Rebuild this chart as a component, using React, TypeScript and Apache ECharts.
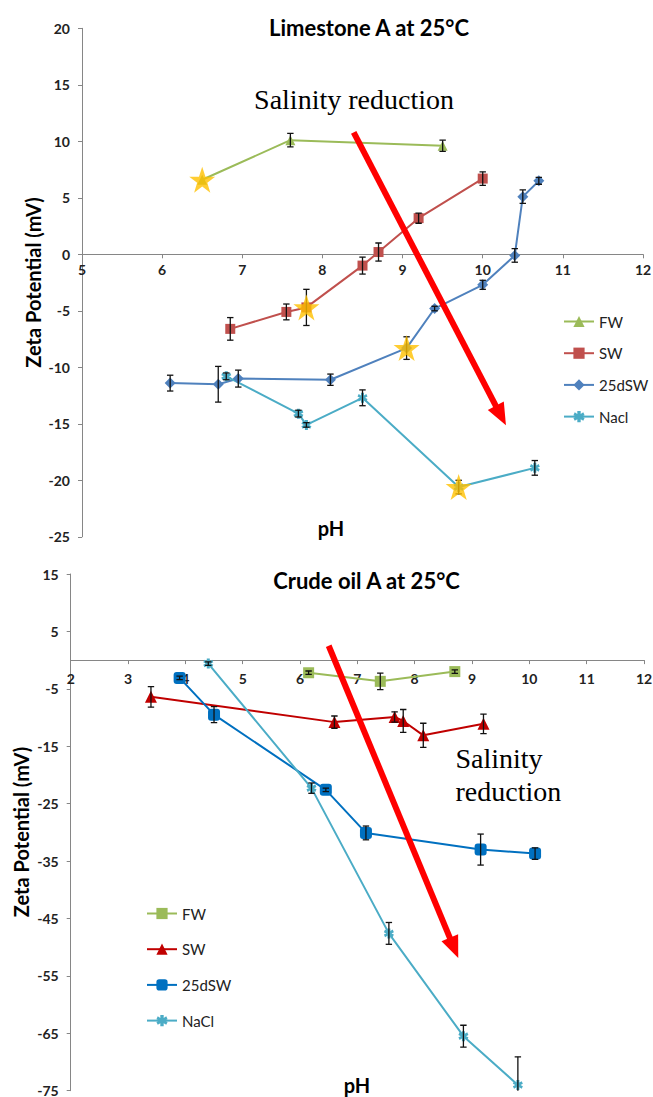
import React, { useEffect, useRef } from "react";
import * as echarts from "echarts";

// ---- Limestone A at 25°C : zeta potential (mV) against pH ----
const limePhFW = [6.5, 7.6, 9.5];
const limeZetaFW = [6.6, 10.1, 9.6];
const limeErrFW = [0, 0.6, 0.5];

const limePhSW = [6.85, 7.55, 7.8, 8.5, 8.7, 9.2, 10.0];
const limeZetaSW = [-6.6, -5.1, -4.7, -1.0, 0.2, 3.2, 6.7];
const limeErrSW = [1.0, 0.7, 1.6, 0.75, 0.8, 0.45, 0.6];

const limePh25dSW = [6.1, 6.7, 6.95, 8.1, 9.05, 9.4, 10.0, 10.4, 10.5, 10.7];
const limeZeta25dSW = [-11.4, -11.5, -11.0, -11.1, -8.3, -4.8, -2.7, -0.1, 5.1, 6.5];
const limeErr25dSW = [0.7, 1.58, 0.75, 0.5, 1.0, 0.2, 0.4, 0.6, 0.6, 0.3];

const limePhNacl = [6.8, 7.7, 7.8, 8.5, 9.7, 10.65];
const limeZetaNacl = [-10.8, -14.1, -15.1, -12.7, -20.6, -18.9];
const limeErrNacl = [0.3, 0.3, 0.2, 0.7, 0.6, 0.65];

// index of the highlighted (starred) point in each Limestone series
const limeStarFW = 0;
const limeStarSW = 2;
const limeStar25dSW = 4;
const limeStarNacl = 4;

// ---- Crude oil A at 25°C ----
const crudePhFW = [6.15, 7.4, 8.7];
const crudeZetaFW = [-2.2, -3.7, -2.0];
const crudeErrFW = [0.3, 1.45, 0.3];

const crudePhSW = [3.4, 6.6, 7.65, 7.8, 8.15, 9.2];
const crudeZetaSW = [-6.4, -10.8, -9.9, -10.6, -13.1, -11.1];
const crudeErrSW = [1.8, 1.07, 0.9, 2.0, 2.1, 1.7];

const crudePh25dSW = [3.9, 4.5, 6.45, 7.15, 9.15, 10.1];
const crudeZeta25dSW = [-3.1, -9.5, -22.6, -30.1, -33.0, -33.7];
const crudeErr25dSW = [0.3, 1.4, 0.3, 1.2, 2.7, 1.0];

const crudePhNaCl = [4.4, 6.2, 7.55, 8.85, 9.8];
const crudeZetaNaCl = [-0.6, -22.3, -47.6, -65.5, -74.0];
const crudeErrNaCl = [0.3, 0.9, 1.9, 1.9, 4.9];

// axis tick labels
const limePhTicks = [5, 6, 7, 8, 9, 10, 11, 12];
const limeZetaTicks = [20, 15, 10, 5, 0, -5, -10, -15, -20, -25];
const crudePhTicks = [2, 3, 4, 5, 6, 7, 8, 9, 10, 11, 12];
const crudeZetaTicks = [15, 5, -5, -15, -25, -35, -45, -55, -65, -75];

const SANS = 'Lato, "Liberation Sans", sans-serif';
const SERIF = '"Liberation Serif", "DejaVu Serif", serif';

const STAR_PATH =
  "path://M50,2 L61.8,36.2 L97.6,36.2 L68.6,57.4 L79.6,91.6 L50,70.4 L20.4,91.6 L31.4,57.4 L2.4,36.2 L38.2,36.2 Z";
const ASTERISK_PATH =
  "path://M3.5,0 L6.5,0 L6.5,2.6 L8.8,1.2 L10,3.8 L7.6,5 L10,6.2 L8.8,8.8 L6.5,7.4 L6.5,10 L3.5,10 L3.5,7.4 L1.2,8.8 L0,6.2 L2.4,5 L0,3.8 L1.2,1.2 L3.5,2.6 Z";

type Def = {
  name: string;
  ph: number[];
  zeta: number[];
  err: number[];
  color: string;
  symbol: string;
  size: number;
  star?: number;
};

const zip = (a: number[], b: number[]) => a.map((v, i) => [v, b[i]]);

function lineSeries(d: Def) {
  return {
    type: "line",
    name: d.name,
    data: zip(d.ph, d.zeta),
    symbol: d.symbol,
    symbolSize: d.size,
    showAllSymbol: true,
    lineStyle: { color: d.color, width: 2 },
    itemStyle: { color: d.color, borderWidth: 0 },
    z: 2,
    silent: true,
  };
}

function errorBars(defs: Def[]) {
  const data: number[][] = [];
  defs.forEach((d) =>
    d.ph.forEach((x, i) => {
      if (d.err[i] > 0) data.push([x, d.zeta[i], d.err[i]]);
    })
  );
  return {
    type: "custom",
    silent: true,
    z: 4,
    clip: true,
    encode: { x: 0, y: 1 },
    data,
    renderItem: (_p: any, api: any) => {
      const x = api.value(0);
      const y = api.value(1);
      const e = api.value(2);
      const top = api.coord([x, y + e]);
      const bot = api.coord([x, y - e]);
      const w = 3.2;
      const st = { stroke: "#111", lineWidth: 1.3 };
      return {
        type: "group",
        children: [
          { type: "line", shape: { x1: top[0], y1: top[1], x2: bot[0], y2: bot[1] }, style: st },
          { type: "line", shape: { x1: top[0] - w, y1: top[1], x2: top[0] + w, y2: top[1] }, style: st },
          { type: "line", shape: { x1: bot[0] - w, y1: bot[1], x2: bot[0] + w, y2: bot[1] }, style: st },
        ],
      };
    },
  };
}

function starSeries(defs: Def[]) {
  const data: number[][] = [];
  defs.forEach((d) => {
    if (d.star !== undefined) data.push([d.ph[d.star], d.zeta[d.star]]);
  });
  return {
    type: "scatter",
    data,
    symbol: STAR_PATH,
    symbolSize: [26, 26],
    itemStyle: { color: "#FFC000" },
    z: 5,
    silent: true,
  };
}

function arrowSeries(arrow: number[]) {
  return {
    type: "custom",
    silent: true,
    z: 6,
    clip: false,
    encode: { x: [0, 2], y: [1, 3] },
    data: [arrow],
    renderItem: (_p: any, api: any) => {
      const a = api.coord([api.value(0), api.value(1)]);
      const b = api.coord([api.value(2), api.value(3)]);
      const dx = b[0] - a[0];
      const dy = b[1] - a[1];
      const len = Math.hypot(dx, dy);
      const ux = dx / len;
      const uy = dy / len;
      const px = -uy;
      const py = ux;
      const L = 22;
      const W = 9;
      const bx = b[0] - ux * L;
      const by = b[1] - uy * L;
      return {
        type: "group",
        children: [
          {
            type: "line",
            shape: { x1: a[0], y1: a[1], x2: bx + ux * 2, y2: by + uy * 2 },
            style: { stroke: "#FF0000", lineWidth: 6 },
          },
          {
            type: "polygon",
            shape: { points: [[b[0], b[1]], [bx + px * W, by + py * W], [bx - px * W, by - py * W]] },
            style: { fill: "#FF0000" },
          },
        ],
      };
    },
  };
}

const lineColor = "#868686";
const tickLabel = { color: "#222", fontFamily: SANS, fontWeight: "bold", fontSize: 14 };

function text(x: number, y: number, s: string, font: any, extra: any = {}) {
  return {
    type: "text",
    x,
    y,
    silent: true,
    ...extra,
    style: {
      text: s,
      fill: "#000",
      align: "center",
      verticalAlign: "middle",
      ...font,
      ...(extra.style || {}),
    },
  };
}

const titleFont = { fontFamily: SANS, fontWeight: "bold", fontSize: 22 };
const axisNameFont = { fontFamily: SANS, fontWeight: "bold", fontSize: 20 };
const noteFont = { fontFamily: SERIF, fontSize: 28 };

function legend(names: string[], left: number, top: number, gap: number) {
  return {
    data: names,
    orient: "vertical",
    left,
    top,
    itemWidth: 30,
    itemHeight: 14,
    itemGap: gap,
    selectedMode: false,
    textStyle: { fontFamily: SANS, fontSize: 15, color: "#222" },
  };
}

// The pH axis sits on the zero line of the zeta axis: it is lifted from the
// grid bottom by the share of the grid height that lies below zeta = 0.
function zeroLift(height: number, top: number, bottom: number, min: number, max: number) {
  const h = height - top - bottom;
  return (h * (0 - min)) / (max - min);
}

function xAxis(ticks: number[], lift: number, margin: number) {
  return {
    type: "value",
    min: ticks[0],
    max: ticks[ticks.length - 1],
    interval: 1,
    offset: -lift,
    axisLine: { show: true, onZero: false, lineStyle: { color: lineColor, width: 1 } },
    axisTick: { show: true, length: 4, lineStyle: { color: lineColor } },
    axisLabel: { ...tickLabel, margin },
    splitLine: { show: false },
  };
}

const limeDefs: Def[] = [
  { name: "FW", ph: limePhFW, zeta: limeZetaFW, err: limeErrFW, color: "#9BBB59", symbol: "triangle", size: 10, star: limeStarFW },
  { name: "SW", ph: limePhSW, zeta: limeZetaSW, err: limeErrSW, color: "#C0504D", symbol: "rect", size: 10, star: limeStarSW },
  { name: "25dSW", ph: limePh25dSW, zeta: limeZeta25dSW, err: limeErr25dSW, color: "#4F81BD", symbol: "diamond", size: 11, star: limeStar25dSW },
  { name: "Nacl", ph: limePhNacl, zeta: limeZetaNacl, err: limeErrNacl, color: "#4BACC6", symbol: ASTERISK_PATH, size: 10, star: limeStarNacl },
];

const crudeDefs: Def[] = [
  { name: "FW", ph: crudePhFW, zeta: crudeZetaFW, err: crudeErrFW, color: "#9BBB59", symbol: "rect", size: 11 },
  { name: "SW", ph: crudePhSW, zeta: crudeZetaSW, err: crudeErrSW, color: "#C00000", symbol: "triangle", size: 12 },
  { name: "25dSW", ph: crudePh25dSW, zeta: crudeZeta25dSW, err: crudeErr25dSW, color: "#0070C0", symbol: "roundRect", size: 12 },
  { name: "NaCl", ph: crudePhNaCl, zeta: crudeZetaNaCl, err: crudeErrNaCl, color: "#4BACC6", symbol: ASTERISK_PATH, size: 10 },
];

// Top chart canvas runs a little past the point where the lower chart starts,
// so its lowest tick label is not cut; the lower chart lies over it, transparent.
const LIME_H = 550;
const limeGrid = { left: 82, right: 10, top: 28.3, bottom: 13.2, outerBoundsMode: "none" };
const limeMin = limeZetaTicks[limeZetaTicks.length - 1];
const limeMax = limeZetaTicks[0];

const CRUDE_TOP = 540;
const CRUDE_H = 557;
const crudeGrid = { left: 70.7, right: 9, top: 34, bottom: 6.3, outerBoundsMode: "none" };
const crudeMin = crudeZetaTicks[crudeZetaTicks.length - 1];
const crudeMax = crudeZetaTicks[0];

const limeOption = {
  animation: false,
  backgroundColor: "#fff",
  grid: limeGrid,
  xAxis: xAxis(limePhTicks, zeroLift(LIME_H, limeGrid.top, limeGrid.bottom, limeMin, limeMax), 8),
  yAxis: {
    type: "value",
    min: limeMin,
    max: limeMax,
    interval: 5,
    axisLine: { show: true, onZero: false, lineStyle: { color: lineColor, width: 1 } },
    axisTick: { show: true, length: 4, lineStyle: { color: lineColor } },
    axisLabel: { ...tickLabel, margin: 12, lineHeight: 12 },
    splitLine: { show: false },
  },
  legend: legend(limeDefs.map((d) => d.name), 558, 309, 16.7),
  series: [
    ...limeDefs.map(lineSeries),
    errorBars(limeDefs),
    starSeries(limeDefs),
    arrowSeries([8.39, 10.78, 10.29, -15.13]),
  ],
  graphic: [
    text(369, 27, "Limestone A at 25°C", titleFont),
    text(354, 99, "Salinity reduction", noteFont),
    text(33, 282.5, "Zeta Potential (mV)", axisNameFont, { rotation: Math.PI / 2 }),
    text(331, 528, "pH", axisNameFont),
  ],
};

const crudeOption = {
  animation: false,
  backgroundColor: "transparent",
  grid: crudeGrid,
  xAxis: xAxis(crudePhTicks, zeroLift(CRUDE_H, crudeGrid.top, crudeGrid.bottom, crudeMin, crudeMax), 11),
  yAxis: {
    type: "value",
    min: crudeMin,
    max: crudeMax,
    axisLine: { show: true, onZero: false, lineStyle: { color: lineColor, width: 1 } },
    axisTick: { show: true, length: 4, lineStyle: { color: lineColor }, customValues: crudeZetaTicks },
    axisLabel: { ...tickLabel, margin: 12, lineHeight: 12, customValues: crudeZetaTicks },
    splitLine: { show: false },
  },
  legend: legend(crudeDefs.map((d) => d.name), 141, 361, 20.7),
  series: [
    ...crudeDefs.map(lineSeries),
    errorBars(crudeDefs),
    arrowSeries([6.5, 2.5, 8.76, -51.9]),
  ],
  graphic: [
    text(366.5, 40, "Crude oil A at 25°C", titleFont),
    text(455.5, 218, "Salinity", noteFont, { style: { align: "left" } }),
    text(455.5, 251.7, "reduction", noteFont, { style: { align: "left" } }),
    text(21, 292, "Zeta Potential (mV)", axisNameFont, { rotation: Math.PI / 2 }),
    text(357, 545, "pH", axisNameFont),
  ],
};

export default function App() {
  const topRef = useRef<HTMLDivElement>(null);
  const botRef = useRef<HTMLDivElement>(null);

  useEffect(() => {
    const c1 = echarts.init(topRef.current as HTMLDivElement, null, { renderer: "svg" });
    c1.setOption(limeOption as any);
    const c2 = echarts.init(botRef.current as HTMLDivElement, null, { renderer: "svg" });
    c2.setOption(crudeOption as any);
    return () => {
      c1.dispose();
      c2.dispose();
    };
  }, []);

  return (
    <div style={{ position: "absolute", left: 0, top: 0, width: 653, height: 1097, background: "#fff" }}>
      <div ref={topRef} style={{ position: "absolute", left: 0, top: 0, width: 653, height: LIME_H }} />
      <div ref={botRef} style={{ position: "absolute", left: 0, top: CRUDE_TOP, width: 653, height: CRUDE_H }} />
    </div>
  );
}
